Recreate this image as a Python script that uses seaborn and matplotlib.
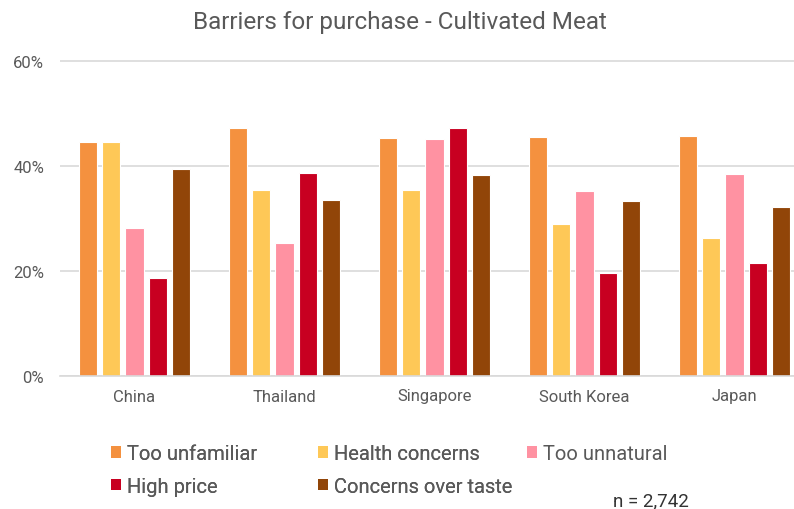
import matplotlib
matplotlib.use("Agg")
import matplotlib.pyplot as plt
from matplotlib.patches import Patch
from matplotlib.ticker import FuncFormatter
import seaborn as sns
import pandas as pd

countries = ["China", "Thailand", "Singapore", "South Korea", "Japan"]
series_names = ["Too unfamiliar", "Health concerns", "Too unnatural", "High price", "Concerns over taste"]
too_unfamiliar = [44.5, 47.2, 45.4, 45.6, 45.8]
health_concerns = [44.5, 35.4, 35.5, 29.0, 26.2]
too_unnatural = [28.1, 25.3, 45.2, 35.2, 38.4]
high_price = [18.7, 38.6, 47.3, 19.7, 21.6]
taste = [39.5, 33.6, 38.2, 33.3, 32.1]
y_ticks = [0, 20, 40, 60]
colors = ["#F4913F", "#FEC857", "#FF92A2", "#C80021", "#914508"]

values = [too_unfamiliar, health_concerns, too_unnatural, high_price, taste]
rows = []
for name, vals in zip(series_names, values):
    for c, v in zip(countries, vals):
        rows.append({"Country": c, "Barrier": name, "Value": v})
df = pd.DataFrame(rows)

sns.set_style("white")
plt.rcParams["font.family"] = ["Roboto", "DejaVu Sans"]
text_color = "#595959"

fig = plt.figure(figsize=(7.94, 5.10), dpi=100)
ax = fig.add_axes([59.5 / 794, 1 - 377 / 510, (794 - 59.5) / 794, (377 - 56.75) / 510])

sns.barplot(data=df, x="Country", y="Value", hue="Barrier", order=countries,
            hue_order=series_names, palette=colors, saturation=1, width=0.773, gap=0.21,
            edgecolor="white", linewidth=0.8, ax=ax, legend=False, errorbar=None)

ax.set_xlim(-0.5, -0.5 + (794 - 59.5) / 150)
ax.set_ylim(0, 61)
ax.set_yticks(y_ticks)
ax.yaxis.set_major_formatter(FuncFormatter(lambda v, p: f"{v:.0f}%"))
ax.grid(axis="y", color="#D9D9D9", linewidth=1.2)
ax.set_axisbelow(True)
for s in ["top", "right", "left"]:
    ax.spines[s].set_visible(False)
ax.spines["bottom"].set_color("#D9D9D9")
ax.spines["bottom"].set_linewidth(1.2)
ax.tick_params(axis="y", length=0, pad=11, labelsize=12, labelcolor=text_color)
ax.tick_params(axis="x", length=0, pad=9, labelsize=12, labelcolor=text_color)
ax.set_xlabel("")
ax.set_ylabel("")

fig.text(400 / 794, 1 - 22 / 510, "Barriers for purchase - Cultivated Meat",
         ha="center", va="center", fontsize=17.5, color=text_color)

handles = [Patch(facecolor=c, edgecolor="none") for c in colors]
cols = [[0, 3], [1, 4], [2]]
xs = [111, 318, 527]
for idx, (col, x) in enumerate(zip(cols, xs)):
    leg = fig.legend([handles[i] for i in col], [series_names[i] for i in col],
                     loc="upper left", bbox_to_anchor=(x / 794, 1 - 445 / 510),
                     frameon=False, fontsize=14.5, handlelength=0.5, handleheight=0.5,
                     handletextpad=0.3, labelspacing=0.69, borderpad=0, borderaxespad=0,
                     labelcolor=text_color)
    if idx < 2:
        fig.add_artist(leg)

fig.text(613 / 794, 1 - 501 / 510, "n = 2,742", ha="left", va="center",
         fontsize=13.5, color="#333333")

fig.savefig("out.png", dpi=100)
